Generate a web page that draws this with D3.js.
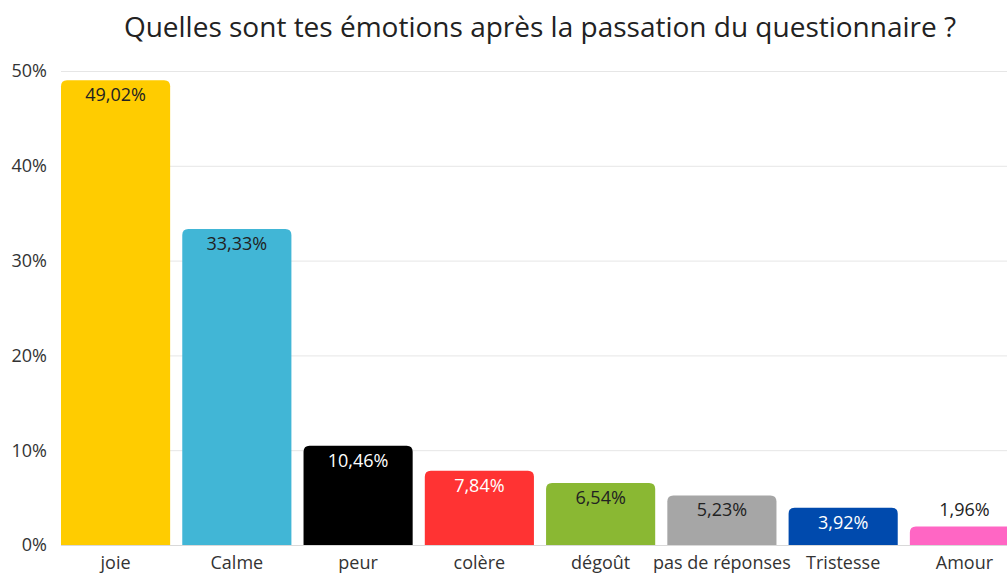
<!DOCTYPE html>
<html>
<head>
<meta charset="utf-8">
<script src="https://cdn.jsdelivr.net/npm/d3@7"></script>
<style>
  body { margin: 0; background: #fff; }
  text { font-family: "Open Sans", sans-serif; }
</style>
</head>
<body>
<script>
var categories = ["joie", "Calme", "peur", "colère", "dégoût", "pas de réponses", "Tristesse", "Amour"];
var values = [49.02, 33.33, 10.46, 7.84, 6.54, 5.23, 3.92, 1.96];
var colors = ["#ffcc00", "#41b6d6", "#000000", "#ff3333", "#8ab833", "#a6a6a6", "#004aad", "#ff66c4"];
var labelColors = ["#222", "#222", "#fff", "#fff", "#222", "#222", "#fff", "#222"];
var yTicks = [0, 10, 20, 30, 40, 50];

var width = 1007, height = 574;
var plotLeft = 61, plotTop = 71, plotBottom = 545;

var svg = d3.select("body").append("svg")
  .attr("width", width)
  .attr("height", height);

var x = d3.scaleBand()
  .domain(categories)
  .range([plotLeft, 1019])
  .paddingInner(0.1)
  .paddingOuter(0);

var y = d3.scaleLinear()
  .domain([0, 50])
  .range([plotBottom, plotTop]);

// grid
svg.selectAll(".grid")
  .data(yTicks)
  .enter()
  .append("line")
  .attr("x1", plotLeft)
  .attr("x2", width)
  .attr("y1", function (d) { return y(d) + 0.5; })
  .attr("y2", function (d) { return y(d) + 0.5; })
  .attr("stroke", function (d) { return d === 0 ? "#d9d9d9" : "#e6e6e6"; })
  .attr("stroke-width", 1);

svg.selectAll(".ytick")
  .data(yTicks)
  .enter()
  .append("text")
  .attr("x", 47)
  .attr("y", function (d) { return y(d); })
  .attr("dy", "0.35em")
  .attr("text-anchor", "end")
  .attr("font-size", 18)
  .attr("fill", "#333")
  .text(function (d) { return d + "%"; });

function barPath(x0, y0, w, h, r) {
  r = Math.min(r, h);
  return "M" + x0 + "," + (y0 + h) +
    "V" + (y0 + r) +
    "Q" + x0 + "," + y0 + " " + (x0 + r) + "," + y0 +
    "H" + (x0 + w - r) +
    "Q" + (x0 + w) + "," + y0 + " " + (x0 + w) + "," + (y0 + r) +
    "V" + (y0 + h) + "Z";
}

var bars = svg.selectAll(".bar")
  .data(values)
  .enter()
  .append("g");

bars.append("path")
  .attr("d", function (d, i) {
    var x0 = x(categories[i]);
    return barPath(x0, y(d), x.bandwidth(), plotBottom - y(d), 6);
  })
  .attr("fill", function (d, i) { return colors[i]; });

bars.append("text")
  .attr("x", function (d, i) { return x(categories[i]) + x.bandwidth() / 2; })
  .attr("y", function (d) {
    return (plotBottom - y(d)) > 24 ? y(d) + 21 : y(d) - 10;
  })
  .attr("text-anchor", "middle")
  .attr("font-size", 18)
  .attr("fill", function (d, i) {
    return (plotBottom - y(d)) > 24 ? labelColors[i] : "#222";
  })
  .text(function (d) { return d.toFixed(2).replace(".", ",") + "%"; });

svg.selectAll(".xlabel")
  .data(categories)
  .enter()
  .append("text")
  .attr("x", function (d) { return x(d) + x.bandwidth() / 2; })
  .attr("y", 569)
  .attr("text-anchor", "middle")
  .attr("font-size", 18)
  .attr("fill", "#333")
  .text(function (d) { return d; });

svg.append("text")
  .attr("x", 540)
  .attr("y", 37)
  .attr("text-anchor", "middle")
  .attr("font-size", 28)
  .attr("fill", "#222")
  .text("Quelles sont tes émotions après la passation du questionnaire ?");
</script>
</body>
</html>
